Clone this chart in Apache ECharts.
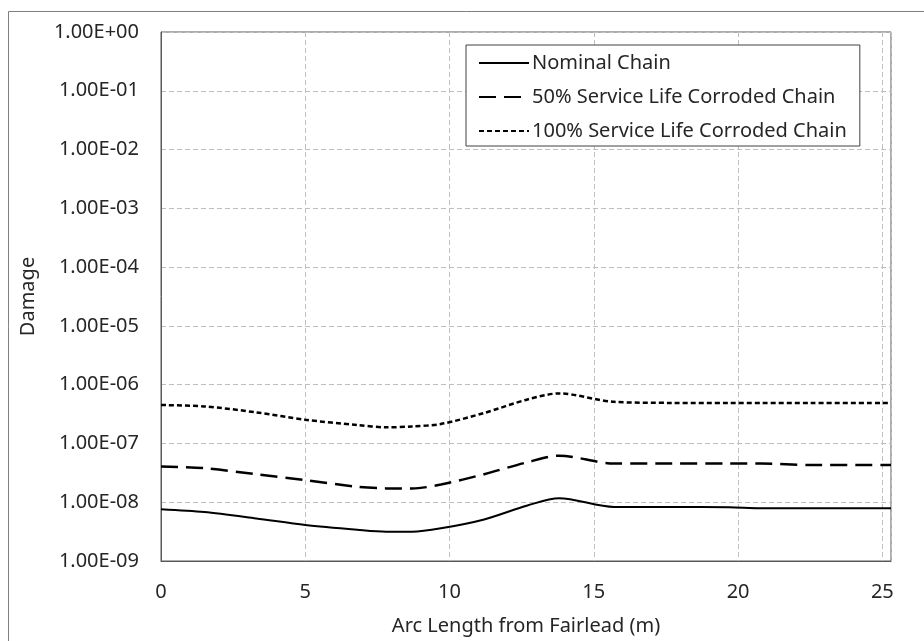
<!DOCTYPE html>
<html>
<head>
<meta charset="utf-8">
<script src="https://cdn.jsdelivr.net/npm/echarts@6/dist/echarts.min.js"></script>
<style>html,body{margin:0;padding:0;background:#fff}#c{width:924px;height:641px}</style>
</head>
<body>
<div id="c"></div>
<script>
const arcLength = [0, 1.5, 3.3, 5.0, 6.8, 7.8, 8.7, 9.7, 11.2, 12.7, 13.8, 15.7, 17.7, 19.7, 20.8, 22.5, 25.3];
const nominal = [7.6e-9, 6.8e-9, 5.3e-9, 4.1e-9, 3.4e-9, 3.15e-9, 3.15e-9, 3.6e-9, 5.1e-9, 8.8e-9, 1.17e-8, 8.3e-9, 8.3e-9, 8.2e-9, 7.9e-9, 7.9e-9, 7.9e-9];
const corroded50 = [4.05e-8, 3.8e-8, 3.0e-8, 2.38e-8, 1.83e-8, 1.72e-8, 1.71e-8, 2.0e-8, 3.0e-8, 4.8e-8, 6.2e-8, 4.56e-8, 4.56e-8, 4.56e-8, 4.56e-8, 4.3e-8, 4.28e-8];
const corroded100 = [4.5e-7, 4.27e-7, 3.38e-7, 2.53e-7, 2.06e-7, 1.88e-7, 1.95e-7, 2.14e-7, 3.3e-7, 5.6e-7, 7.1e-7, 5.1e-7, 4.9e-7, 4.9e-7, 4.9e-7, 4.9e-7, 4.9e-7];
const seriesNames = ['Nominal Chain', '50% Service Life Corroded Chain', '100% Service Life Corroded Chain'];
const xTitle = 'Arc Length from Fairlead (m)';
const yTitle = 'Damage';

const FONT = 'Noto Sans';
const FS = 20;
const TXT = '#262626';
function pairs(ys){ return arcLength.map((x,i)=>[x, ys[i]]); }
function fmtY(v){
  const e = Math.round(Math.log10(v));
  return '1.00E' + (e < 0 ? '-' : '+') + String(Math.abs(e)).padStart(2, '0');
}
const chart = echarts.init(document.getElementById('c'), null, {renderer:'canvas'});
chart.setOption({
  animation: false,
  backgroundColor: '#fff',
  graphic: [{
    type: 'rect', silent: true,
    shape: {x: 8.5, y: 11.5, width: 1000, height: 1000},
    style: {fill: 'none', stroke: '#808080', lineWidth: 1}
  }],
  grid: {left: 161, right: 33, top: 32, bottom: 80, show: true, borderColor: '#595959', borderWidth: 1},
  legend: {
    orient: 'vertical', left: 466, top: 45,
    backgroundColor: '#fff',
    borderColor: '#404040', borderWidth: 1,
    padding: [8, 13, 5, 12],
    itemWidth: 50, itemHeight: 18, itemGap: 14,
    itemStyle: {opacity: 0, color: 'rgba(0,0,0,0)', borderWidth: 0},
    textStyle: {fontFamily: FONT, fontSize: FS, color: TXT, padding: [0,0,0,-2]},
    data: seriesNames
  },
  xAxis: {
    type: 'value', min: 0, max: 25.3, interval: 5,
    name: xTitle, nameLocation: 'middle', nameGap: 55,
    nameTextStyle: {fontFamily: FONT, fontSize: FS, color: TXT},
    axisLine: {show: true, lineStyle: {color: '#595959'}},
    axisTick: {show: false},
    axisLabel: {fontFamily: FONT, fontSize: FS, color: TXT, margin: 21, showMaxLabel: false,
      formatter: v => (v % 5 === 0 ? String(v) : '')},
    splitLine: {show: true, lineStyle: {color: '#bfbfbf', type: [5, 3], width: 1}}
  },
  yAxis: {
    type: 'log', logBase: 10, min: 1e-9, max: 1,
    name: yTitle, nameLocation: 'middle', nameGap: 123,
    nameTextStyle: {fontFamily: FONT, fontSize: FS, color: TXT},
    axisLine: {show: true, lineStyle: {color: '#595959'}},
    axisTick: {show: false},
    axisLabel: {fontFamily: FONT, fontSize: FS, color: TXT, margin: 22, formatter: fmtY},
    splitLine: {show: true, lineStyle: {color: '#bfbfbf', type: [5, 3], width: 1}}
  },
  series: [
    {name: seriesNames[0], type: 'line', data: pairs(nominal), smooth: 0.3, symbol: 'none',
      lineStyle: {color: '#000', width: 2, type: 'solid'}, itemStyle: {color: '#000'}},
    {name: seriesNames[1], type: 'line', data: pairs(corroded50), smooth: 0.3, symbol: 'none',
      lineStyle: {color: '#000', width: 2.5, type: [17, 8]}, itemStyle: {color: '#000'}},
    {name: seriesNames[2], type: 'line', data: pairs(corroded100), smooth: 0.3, symbol: 'none',
      lineStyle: {color: '#000', width: 2.5, type: [5, 3]}, itemStyle: {color: '#000'}}
  ]
});
</script>
</body>
</html>
